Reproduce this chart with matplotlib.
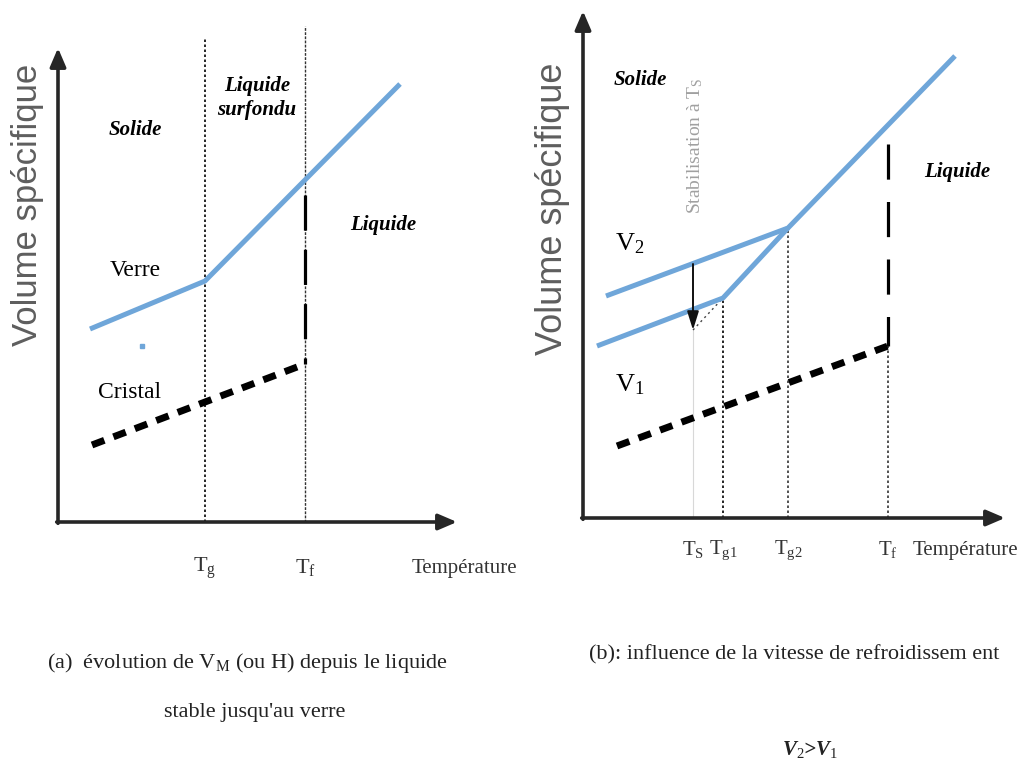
import matplotlib
matplotlib.use("Agg")
import matplotlib.pyplot as plt

plt.rcParams['font.family'] = ['Liberation Serif', 'DejaVu Serif']
plt.rcParams['mathtext.fontset'] = 'custom'
plt.rcParams['mathtext.rm'] = 'Liberation Serif'
plt.rcParams['mathtext.it'] = 'Liberation Serif:italic'

# --- panel (a): temperature / volume in arbitrary units ---
a_Tg, a_Tf = 147, 247
a_verre_T = [32, 147, 342]
a_verre_V = [193, 241, 438]
a_cristal_T = [34, 247]
a_cristal_V = [77, 158]
a_fusion_V = [327, 158]
a_Tg_top, a_Tf_top = 485, 496
a_xmax, a_ymax = 399, 474
a_tick_T = [a_Tg, a_Tf]
a_tick_labels = [r'T$_\mathrm{g}$', r'T$_\mathrm{f}$']

# --- panel (b) ---
b_Ts, b_Tg1, b_Tg2, b_Tf = 110, 140, 205, 305
b_V2_T = [23, 205, 372]
b_V2_V = [222, 290, 462]
b_V1_T = [14, 140, 205]
b_V1_V = [172, 220, 290]
b_extrap_T = [b_Ts, b_Tg1]
b_extrap_V = [188, 220]
b_cristal_T = [34, 305]
b_cristal_V = [72, 172]
b_fusion_V = [374, 172]
b_stab_V = [254, 188]
b_xmax, b_ymax = 422, 507
b_tick_T = [b_Ts, b_Tg1, b_Tg2, b_Tf]
b_tick_labels = [r'T$_\mathrm{S}$', r'T$_\mathrm{g1}$', r'T$_\mathrm{g2}$', r'T$_\mathrm{f}$']

BLUE = '#6fa6d9'
AXC = '#262626'

fig = plt.figure(figsize=(10.19, 7.73), dpi=100)
axA = fig.add_axes([0, 0, 515 / 1019, 1])
axB = fig.add_axes([515 / 1019, 0, 504 / 1019, 1])
axA.set_xlim(-58, 457)
axA.set_ylim(-251, 522)
axB.set_xlim(-68, 436)
axB.set_ylim(-255, 518)
for ax in (axA, axB):
    ax.axis('off')


def draw_axes(ax, xmax, ymax):
    arrow = dict(arrowstyle='-|>,head_length=0.7,head_width=0.3', lw=2.6,
                 color=AXC, shrinkA=0, shrinkB=0, mutation_scale=16)
    ax.annotate('', xy=(xmax, 0), xytext=(-1.3, 0), arrowprops=arrow)
    ax.annotate('', xy=(0, ymax), xytext=(0, -1.3), arrowprops=arrow)


def cristal(ax, T, V):
    ax.plot(T, V, color='black', lw=5, linestyle=(0, (1.9, 1.4)),
            dash_capstyle='butt', solid_capstyle='butt')


# ---------------- panel (a) ----------------
draw_axes(axA, a_xmax, a_ymax)
axA.plot([a_Tg, a_Tg], [0, a_Tg_top], color='black', lw=1.2, linestyle=(0, (1.5, 1.5)))
axA.plot([a_Tf, a_Tf], [0, a_Tf_top], color='#333333', lw=1.0, linestyle=(0, (2, 1)))
axA.plot(a_verre_T, a_verre_V, color=BLUE, lw=3.6, solid_capstyle='butt')
cristal(axA, a_cristal_T, a_cristal_V)
axA.plot([a_Tf, a_Tf], a_fusion_V, color='black', lw=2.3, linestyle=(0, (11, 6)),
         dash_capstyle='butt')
axA.plot([84], [176], 's', color=BLUE, ms=2.5)

axA.text(77, 392, 'Solide', fontsize=15, style='italic', weight='bold', ha='center', va='center')
axA.text(199, 424, 'Liquide\nsurfondu', fontsize=15, style='italic', weight='bold',
         ha='center', va='center', linespacing=1.2)
axA.text(325, 297, 'Liquide', fontsize=15, style='italic', weight='bold', ha='center', va='center')
axA.text(77, 251, 'Verre', fontsize=17, ha='center', va='center')
axA.text(72, 129, 'Cristal', fontsize=17, ha='center', va='center')
axA.text(-30, 317, 'Volume spécifique', fontsize=25, rotation=90, ha='center', va='center',
         color='#5e5e5e', family=['Liberation Sans', 'DejaVu Sans'])
for T, lab in zip(a_tick_T, a_tick_labels):
    axA.text(T, -46, lab, fontsize=16, ha='center', va='center', color='#333333')
axA.text(354, -46, 'Température', fontsize=15, ha='left', va='center', color='#333333')

# ---------------- panel (b) ----------------
draw_axes(axB, b_xmax, b_ymax)
axB.plot([b_Ts, b_Ts], [0, b_extrap_V[0]], color='#d8d8d8', lw=0.8)
axB.plot([b_Tg1, b_Tg1], [0, b_V1_V[1]], color='black', lw=1.2, linestyle=(0, (1.5, 1.5)))
axB.plot([b_Tg2, b_Tg2], [0, b_V2_V[1]], color='#333333', lw=1.2, linestyle=(0, (1.5, 1.5)))
axB.plot([b_Tf, b_Tf], [0, b_fusion_V[1]], color='#333333', lw=1.2, linestyle=(0, (1.5, 1.5)))
axB.plot(b_extrap_T, b_extrap_V, color='#444444', lw=1.0, linestyle=(0, (1.5, 2.5)))
axB.plot(b_V2_T, b_V2_V, color=BLUE, lw=3.6, solid_capstyle='butt')
axB.plot(b_V1_T, b_V1_V, color=BLUE, lw=3.6, solid_capstyle='butt')
cristal(axB, b_cristal_T, b_cristal_V)
axB.plot([b_Tf, b_Tf], b_fusion_V, color='black', lw=2.3, linestyle=(0, (11, 7)),
         dash_capstyle='butt')
axB.annotate('', xy=(b_Ts, b_stab_V[1]), xytext=(b_Ts, b_stab_V[0]),
             arrowprops=dict(arrowstyle='-|>,head_length=0.8,head_width=0.25', lw=1.4,
                             color='#111111', shrinkA=0, shrinkB=0, mutation_scale=14))

axB.text(57, 438, 'Solide', fontsize=15, style='italic', weight='bold', ha='center', va='center')
axB.text(374, 346, 'Liquide', fontsize=15, style='italic', weight='bold', ha='center', va='center')
axB.text(47, 274, r'V$_\mathrm{2}$', fontsize=19, ha='center', va='center')
axB.text(47, 133, r'V$_\mathrm{1}$', fontsize=19, ha='center', va='center')
axB.text(112, 372, r'Stabilisation à T$_\mathrm{S}$', fontsize=14, rotation=90,
         ha='center', va='center', color='#a0a0a0')
axB.text(-31, 309, 'Volume spécifique', fontsize=26, rotation=90, ha='center', va='center',
         color='#5e5e5e', family=['Liberation Sans', 'DejaVu Sans'])
for T, lab in zip(b_tick_T, b_tick_labels):
    axB.text(T, -32, lab, fontsize=15, ha='center', va='center', color='#333333')
axB.text(330, -32, 'Température', fontsize=15, ha='left', va='center', color='#333333')

# ---------------- captions ----------------
fig.text(247 / 1019, 1 - 663 / 773,
         r'(a)  évolution de V$_\mathrm{M}$ (ou H) depuis le liquide',
         fontsize=16, ha='center', va='center', color='#222222')
fig.text(255 / 1019, 1 - 712 / 773, "stable jusqu'au verre",
         fontsize=16, ha='center', va='center', color='#222222')
fig.text(794 / 1019, 1 - 655 / 773, '(b): influence de la vitesse de refroidissem ent',
         fontsize=16, ha='center', va='center', color='#222222')
fig.text(810 / 1019, 1 - 750 / 773, r'V$_2$>V$_1$', fontsize=15, style='italic',
         weight='bold', ha='center', va='center', color='#222222')

fig.savefig('out.png', dpi=100)
